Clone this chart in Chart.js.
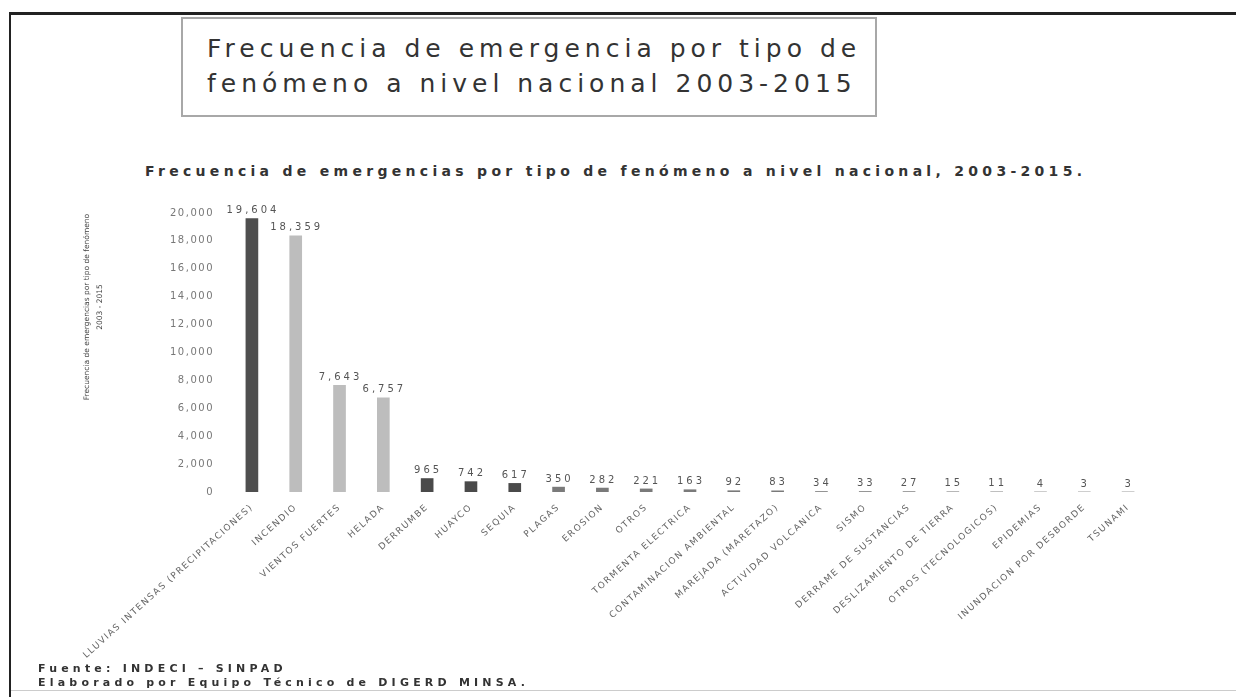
<!DOCTYPE html>
<html>
<head>
<meta charset="utf-8">
<script src="https://cdn.jsdelivr.net/npm/chart.js@4"></script>
<style>
    body { margin: 0; width: 1236px; height: 697px; background: #fff; position: relative; overflow: hidden; font-family: 'DejaVu Sans', sans-serif; }
    #frame-top { position: absolute; left: 9px; top: 12px; width: 1227px; height: 3px; background: #222; }
    #frame-left { position: absolute; left: 9px; top: 12px; width: 2px; height: 685px; background: #222; }
    #frame-bottom { position: absolute; left: 11px; top: 690px; width: 1225px; height: 1px; background: #ccc; }
    #title-box {
        position: absolute; left: 181px; top: 17px; width: 692px; height: 96px;
        border: 2px solid #a8a8a8; box-sizing: content-box;
    }
    #title-box div {
        position: absolute; left: 24px; font-size: 25px; color: #333; letter-spacing: 5px; white-space: nowrap;
    }
    #chart-title {
        position: absolute; left: 145px; top: 163px; font-size: 14px; font-weight: bold; color: #333;
        letter-spacing: 4.3px; white-space: nowrap;
    }
    #chart-wrap { position: absolute; left: 20px; top: 195px; width: 1170px; height: 480px; }
    #footer { position: absolute; left: 38px; top: 662px; font-size: 11px; font-weight: bold; color: #333; letter-spacing: 4.2px; line-height: 14px; white-space: nowrap; }
</style>
</head>
<body>
<div id="frame-top"></div>
<div id="frame-left"></div>
<div id="frame-bottom"></div>
<div id="title-box">
    <div style="top: 15px;">Frecuencia de emergencia por tipo de</div>
    <div style="top: 50px;">fenómeno a nivel nacional 2003-2015</div>
</div>
<div id="chart-title">Frecuencia de emergencias por tipo de fenómeno a nivel nacional, 2003-2015.</div>
<div id="chart-wrap"><canvas id="barChart"></canvas></div>
<div id="footer">Fuente: INDECI – SINPAD<br>Elaborado por Equipo Técnico de DIGERD MINSA.</div>

<script>
// Tipos de fenómeno (eje X)
const categories = [
    "LLUVIAS INTENSAS (PRECIPITACIONES)", "INCENDIO", "VIENTOS FUERTES", "HELADA",
    "DERRUMBE", "HUAYCO", "SEQUIA", "PLAGAS", "EROSION", "OTROS",
    "TORMENTA ELECTRICA", "CONTAMINACION AMBIENTAL", "MAREJADA (MARETAZO)",
    "ACTIVIDAD VOLCANICA", "SISMO", "DERRAME DE SUSTANCIAS", "DESLIZAMIENTO DE TIERRA",
    "OTROS (TECNOLOGICOS)", "EPIDEMIAS", "INUNDACION POR DESBORDE", "TSUNAMI"
];

// Número de emergencias 2003-2015
const frequencies = [19604, 18359, 7643, 6757, 965, 742, 617, 350, 282, 221, 163, 92, 83, 34, 33, 27, 15, 11, 4, 3, 3];

// Tick labels eje Y
const yTicks = [0, 2000, 4000, 6000, 8000, 10000, 12000, 14000, 16000, 18000, 20000];

// Título del eje Y (dos líneas)
const yTitleLines = ["Frecuencia de emergencias por tipo de fenómeno", "2003 - 2015"];

const barColors = frequencies.map((v, i) => i === 0 ? "#4f4f4f" : (i < 4 ? "#bdbdbd" : (i < 7 ? "#4a4a4a" : "#7a7a7a")));

// Wider letter spacing, like the scanned original
const spacing = {
    id: "spacing",
    beforeDraw(chart) {
        chart.ctx.letterSpacing = "1.5px";
    }
};

// Plugin to write the value above each bar and the y title
const valueLabels = {
    id: "valueLabels",
    afterDatasetsDraw(chart) {
        const ctx = chart.ctx;
        const meta = chart.getDatasetMeta(0);
        ctx.save();
        ctx.letterSpacing = "3px";
        ctx.font = "10px 'DejaVu Sans'";
        ctx.fillStyle = "#555";
        ctx.textAlign = "center";
        ctx.textBaseline = "bottom";
        meta.data.forEach((bar, i) => {
            ctx.fillText(frequencies[i].toLocaleString("en-US"), bar.x + 1, bar.y - 3);
        });

        // y axis title, rotated
        ctx.letterSpacing = "0px";
        ctx.font = "7.5px 'DejaVu Sans'";
        ctx.fillStyle = "#444";
        ctx.textBaseline = "middle";
        yTitleLines.forEach((line, i) => {
            ctx.save();
            ctx.translate(67 + i * 13, 112);
            ctx.rotate(-Math.PI / 2);
            ctx.fillText(line, 0, 0);
            ctx.restore();
        });
        ctx.restore();
    }
};

function createBarChart(chartId) {
    const ctx = document.getElementById(chartId).getContext("2d");
    return new Chart(ctx, {
        type: "bar",
        data: {
            labels: categories,
            datasets: [{
                data: frequencies,
                backgroundColor: barColors,
                barThickness: 12,
                borderWidth: 0
            }]
        },
        options: {
            responsive: true,
            maintainAspectRatio: false,
            animation: false,
            layout: { padding: { top: 18, right: 40, left: 0, bottom: 0 } },
            scales: {
                x: {
                    grid: { display: false },
                    border: { display: false },
                    afterFit: scale => { scale.height = 183; },
                    ticks: {
                        autoSkip: false,
                        maxRotation: 42,
                        minRotation: 42,
                        color: "#666",
                        font: { family: "DejaVu Sans", size: 9 },
                        padding: 2
                    }
                },
                y: {
                    min: 0,
                    max: 20000,
                    grid: { display: false },
                    border: { display: false },
                    afterFit: scale => { scale.width = 210; },
                    afterBuildTicks: scale => { scale.ticks = yTicks.map(v => ({ value: v })); },
                    ticks: {
                        color: "#777",
                        font: { family: "DejaVu Sans", size: 10 },
                        padding: 8,
                        callback: v => v.toLocaleString("en-US")
                    }
                }
            },
            plugins: {
                legend: { display: false },
                title: { display: false },
                tooltip: { enabled: false }
            }
        },
        plugins: [spacing, valueLabels]
    });
}

createBarChart("barChart");
</script>
</body>
</html>
